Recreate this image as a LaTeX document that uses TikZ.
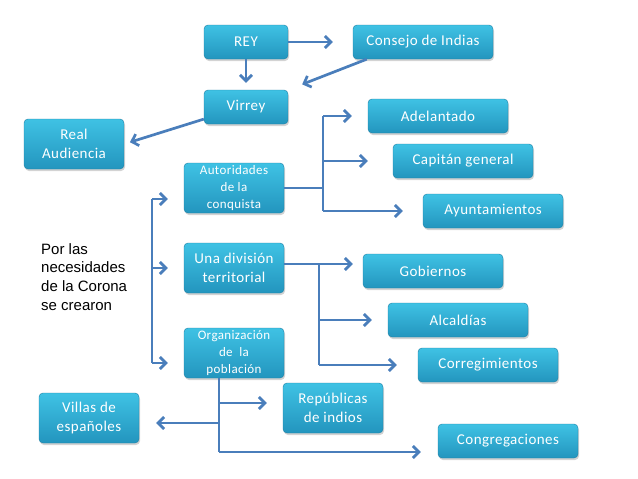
\documentclass[tikz,border=0pt]{standalone}
\usepackage{fontspec}
\setmainfont{Carlito}[LetterSpace=3.0]
\newfontfamily\leadfont{Liberation Sans}
\usetikzlibrary{arrows.meta,shadows}
\definecolor{boxtop}{HTML}{3FC2E4}
\definecolor{boxbot}{HTML}{2395BE}
\definecolor{boxline}{HTML}{1E7FA4}
\definecolor{linkblue}{HTML}{4A7EBB}
\begin{document}
\begin{tikzpicture}[x=1pt,y=-1pt,
    box/.style={rectangle,rounded corners=4pt,draw=boxline,top color=boxtop,bottom color=boxbot,
      text=white,align=center,inner sep=0pt,font=\fontsize{15}{19}\selectfont,
      drop shadow={shadow xshift=1pt,shadow yshift=-2pt,opacity=0.35}},
    small/.style={box,minimum width=84pt,minimum height=34pt},
    wide/.style={box,minimum width=140pt,minimum height=34pt},
    tall/.style={box,minimum width=100pt,minimum height=50pt},
    tiny/.style={tall,font=\fontsize{13}{17}\selectfont},
    line/.style={draw=linkblue,line width=2.7pt},
    link/.style={line,-{Straight Barb[length=6pt,width=12pt]}}
]
\useasboundingbox (0,0) rectangle (638,479);

% upper part
\node[small] (rey)     at (246,42)  {REY};
\node[wide]  (consejo) at (423,42)  {Consejo de Indias};
\node[small] (virrey)  at (246,107) {Virrey};
\node[tall]  (audi)    at (74,144)  {Real\\Audiencia};

\node[font=\leadfont\fontsize{15}{18.7}\selectfont,align=left,anchor=north west,inner sep=0pt]
  (lead) at (41,243) {Por las\\necesidades\\de la Corona\\se crearon};

% three branches
\node[tiny] (autor) at (234,188) {Autoridades\\de la\\conquista};
\node[tall] (divi)  at (234,268) {Una división\\territorial};
\node[tiny] (orga)  at (234,353) {Organización\\de\ \ la\\población};

\node[wide] (adel) at (438,116) {Adelantado};
\node[wide] (capi) at (463,161) {Capitán general};
\node[wide] (ayun) at (493,211) {Ayuntamientos};

\node[wide] (gobi) at (433,271) {Gobiernos};
\node[wide] (alca) at (458,320) {Alcaldías};
\node[wide] (corr) at (488,365) {Corregimientos};

\node[tall] (repu) at (333,408) {Repúblicas\\de indios};
\node[tall] (vill) at (89,418)  {Villas de\\españoles};
\node[wide] (cong) at (508,441) {Congregaciones};

% connectors
\draw[link,shorten >=20pt] (rey) -- (consejo);
\draw[link,shorten >=7pt] (rey) -- (virrey);
\draw[link,shorten >=15pt] (consejo.-163) -- (virrey.north east);
\draw[link,shorten >=6pt] (virrey.196) -- (audi.east);

\coordinate (ba) at (152,199);
\coordinate (bb) at (152,363);
\draw[line] (ba) -- (bb);
\draw[link,shorten >=16pt] (ba) -- (ba -| autor.west);
\draw[link,shorten >=16pt] (ba |- divi) -- (divi.west);
\draw[link,shorten >=16pt] (bb) -- (bb -| orga.west);

\coordinate (ta) at (323,188);
\draw[line] (autor.east) -- (ta);
\draw[line] (ta |- adel) -- (ta |- ayun);
\draw[link,shorten >=16pt] (ta |- adel) -- (adel.west);
\draw[link,shorten >=25pt] (ta |- capi) -- (capi.west);
\draw[link,shorten >=20pt] (ta |- ayun) -- (ayun.west);

\coordinate (td) at (319,264);
\draw[line] (td -| divi.east) -- (td);
\draw[line] (td) -- (td |- corr);
\draw[link,shorten >=10pt] (td) -- (td -| gobi.west);
\draw[link,shorten >=16pt] (td |- alca) -- (alca.west);
\draw[link,shorten >=21pt] (td |- corr) -- (corr.west);

\coordinate (o1) at (219,403);
\coordinate (o2) at (219,423);
\coordinate (ob) at (219,452);
\draw[line] (ob |- orga.south) -- (ob);
\draw[link,shorten >=16pt] (o1) -- (o1 -| repu.west);
\draw[link,shorten >=17pt] (o2) -- (o2 -| vill.east);
\draw[link,shorten >=17pt] (ob) -- (ob -| cong.west);
\end{tikzpicture}
\end{document}
